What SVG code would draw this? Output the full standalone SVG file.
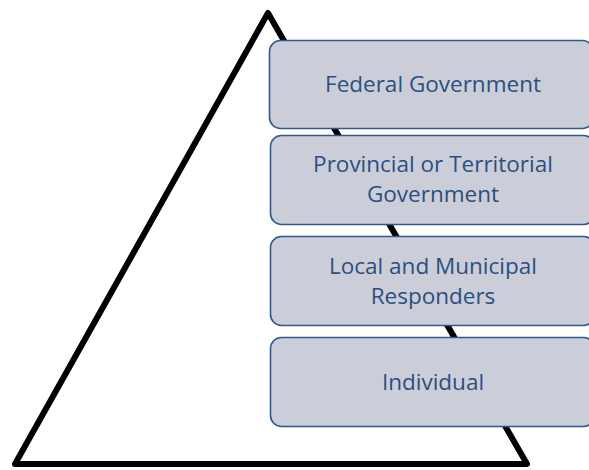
<svg xmlns="http://www.w3.org/2000/svg" width="589" height="470" viewBox="0 0 589 470">
<style>
.box{fill:#CBCED8;stroke:#2F5A8E;stroke-width:1.6}
.lbl{font-family:"Open Sans","Noto Sans",sans-serif;font-size:22.5px;fill:#2B4F80;text-anchor:middle}
</style>
<rect width="589" height="470" fill="#ffffff"/>
<g id="pyramid">
<polygon points="268,13 527,464 15,464" fill="#ffffff" stroke="#000000" stroke-width="6" stroke-linejoin="round"/>
</g>
<g id="federal">
<rect class="box" x="269.5" y="40.5" width="324" height="88" rx="11"/>
<text class="lbl" x="433" y="92">Federal Government</text>
</g>
<g id="provincial">
<rect class="box" x="270.5" y="135.5" width="324" height="89" rx="11"/>
<text class="lbl" x="433" y="172">Provincial or Territorial</text>
<text class="lbl" x="433" y="202">Government</text>
</g>
<g id="local">
<rect class="box" x="270.5" y="236.5" width="324" height="89" rx="11"/>
<text class="lbl" x="433" y="274">Local and Municipal</text>
<text class="lbl" x="433" y="304">Responders</text>
</g>
<g id="individual">
<rect class="box" x="270.5" y="337.5" width="324" height="89" rx="11"/>
<text class="lbl" x="433" y="390">Individual</text>
</g>
<g id="connectors"></g>
</svg>
